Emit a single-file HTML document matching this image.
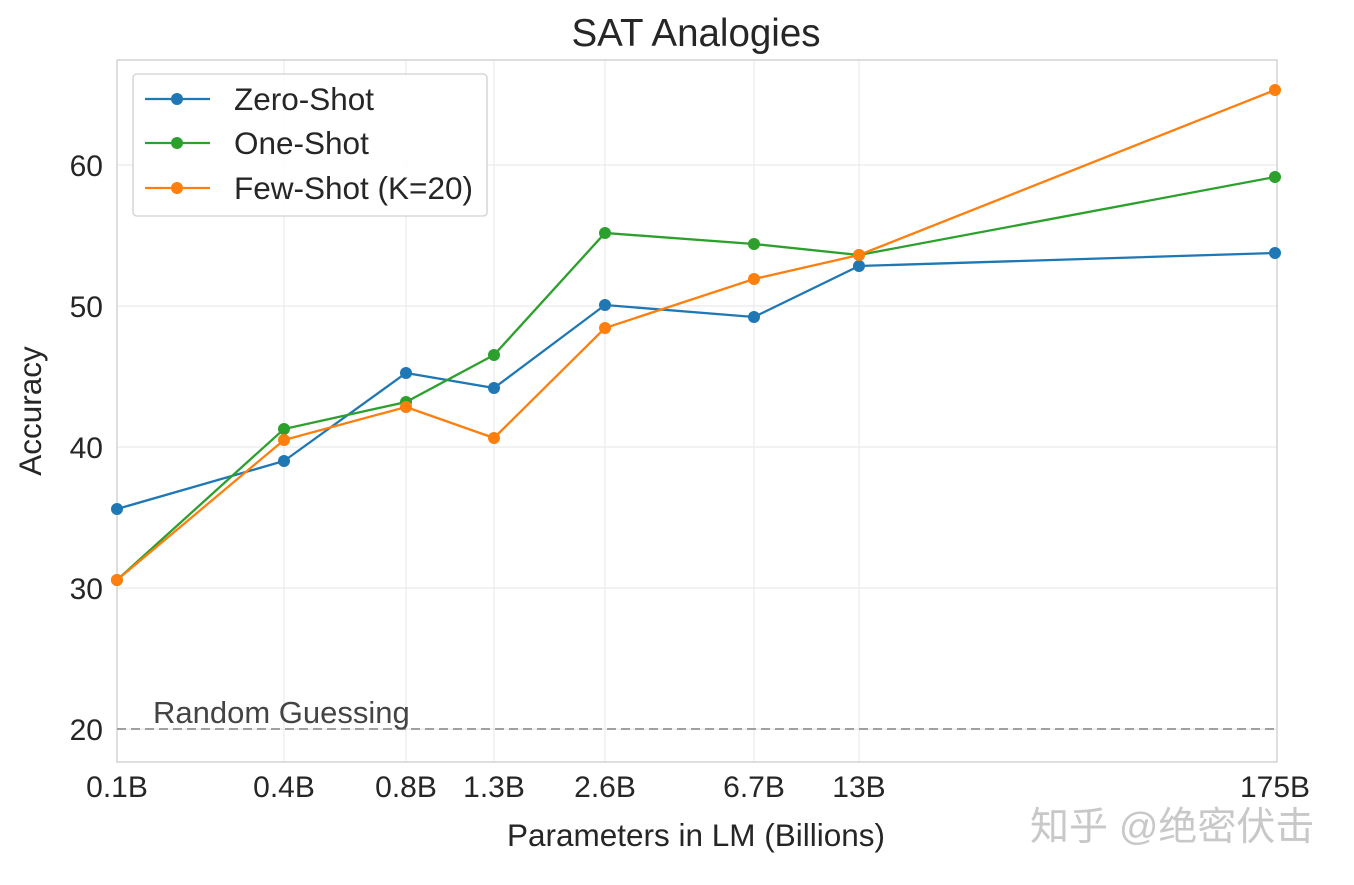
<!DOCTYPE html>
<html><head><meta charset="utf-8"><style>
body{margin:0;background:#fff;}
svg text{font-family:"Liberation Sans","Noto Sans CJK SC",sans-serif;}
</style></head><body>
<svg width="1354" height="880" xmlns="http://www.w3.org/2000/svg">
<rect width="1354" height="880" fill="#fff"/>
<g stroke="#ebebeb" stroke-width="1.2">
<line x1="117" y1="165" x2="1277" y2="165"/><line x1="117" y1="306" x2="1277" y2="306"/>
<line x1="117" y1="447" x2="1277" y2="447"/><line x1="117" y1="588" x2="1277" y2="588"/>
<line x1="117" y1="729" x2="1277" y2="729"/>
<line x1="284" y1="60" x2="284" y2="762"/><line x1="406" y1="60" x2="406" y2="762"/>
<line x1="494" y1="60" x2="494" y2="762"/><line x1="605" y1="60" x2="605" y2="762"/>
<line x1="754" y1="60" x2="754" y2="762"/><line x1="859" y1="60" x2="859" y2="762"/>
</g>
<rect x="117" y="60" width="1160" height="702" fill="none" stroke="#cccccc" stroke-width="1.3"/>
<line x1="117" y1="729" x2="1277" y2="729" stroke="#a0a0a0" stroke-width="2" stroke-dasharray="9,5"/>
<text x="153" y="723" font-size="31" fill="#444">Random Guessing</text>
<g fill="none" stroke-width="2.3">
<polyline stroke="#1f77b4" points="117,509 284,461 406,373 494,388 605,305 754,317 859,266 1275,253"/>
<polyline stroke="#2ca02c" points="117,580 284,429 406,402 494,355 605,233 754,244 859,255 1275,177"/>
<polyline stroke="#ff7f0e" points="117,580 284,440 406,407 494,438 605,328 754,279 859,255 1275,90"/>
</g>
<g fill="#1f77b4"><circle cx="117" cy="509" r="6"/><circle cx="284" cy="461" r="6"/><circle cx="406" cy="373" r="6"/><circle cx="494" cy="388" r="6"/><circle cx="605" cy="305" r="6"/><circle cx="754" cy="317" r="6"/><circle cx="859" cy="266" r="6"/><circle cx="1275" cy="253" r="6"/></g>
<g fill="#2ca02c"><circle cx="117" cy="580" r="6"/><circle cx="284" cy="429" r="6"/><circle cx="406" cy="402" r="6"/><circle cx="494" cy="355" r="6"/><circle cx="605" cy="233" r="6"/><circle cx="754" cy="244" r="6"/><circle cx="859" cy="255" r="6"/><circle cx="1275" cy="177" r="6"/></g>
<g fill="#ff7f0e"><circle cx="117" cy="580" r="6"/><circle cx="284" cy="440" r="6"/><circle cx="406" cy="407" r="6"/><circle cx="494" cy="438" r="6"/><circle cx="605" cy="328" r="6"/><circle cx="754" cy="279" r="6"/><circle cx="859" cy="255" r="6"/><circle cx="1275" cy="90" r="6"/></g>
<rect x="133" y="74" width="354" height="142" rx="4" fill="#fff" fill-opacity="0.85" stroke="#d0d0d0" stroke-width="1.3"/>
<line x1="145" y1="99" x2="210" y2="99" stroke="#1f77b4" stroke-width="2.3"/><circle cx="177" cy="99" r="6" fill="#1f77b4"/>
<line x1="145" y1="143" x2="210" y2="143" stroke="#2ca02c" stroke-width="2.3"/><circle cx="177" cy="143" r="6" fill="#2ca02c"/>
<line x1="145" y1="188" x2="210" y2="188" stroke="#ff7f0e" stroke-width="2.3"/><circle cx="177" cy="188" r="6" fill="#ff7f0e"/>
<g font-size="31.5" fill="#262626">
<text x="234" y="110">Zero-Shot</text><text x="234" y="154">One-Shot</text><text x="234" y="199">Few-Shot (K=20)</text>
</g>
<text x="696" y="46" font-size="38.5" fill="#262626" text-anchor="middle">SAT Analogies</text>
<g font-size="30" fill="#262626" text-anchor="end">
<text x="103" y="176">60</text><text x="103" y="317">50</text><text x="103" y="458">40</text><text x="103" y="599">30</text><text x="103" y="740">20</text>
</g>
<g font-size="30" fill="#262626" text-anchor="middle">
<text x="117" y="797">0.1B</text><text x="284" y="797">0.4B</text><text x="406" y="797">0.8B</text><text x="494" y="797">1.3B</text><text x="605" y="797">2.6B</text><text x="754" y="797">6.7B</text><text x="859" y="797">13B</text><text x="1275" y="797">175B</text>
</g>
<text x="696" y="846" font-size="31.5" fill="#262626" text-anchor="middle">Parameters in LM (Billions)</text>
<text transform="translate(41,411) rotate(-90)" font-size="31.5" fill="#262626" text-anchor="middle">Accuracy</text>
<text x="1030" y="840" font-size="39" fill="#c8c8c8">知乎 @绝密伏击</text>
</svg>
</body></html>
